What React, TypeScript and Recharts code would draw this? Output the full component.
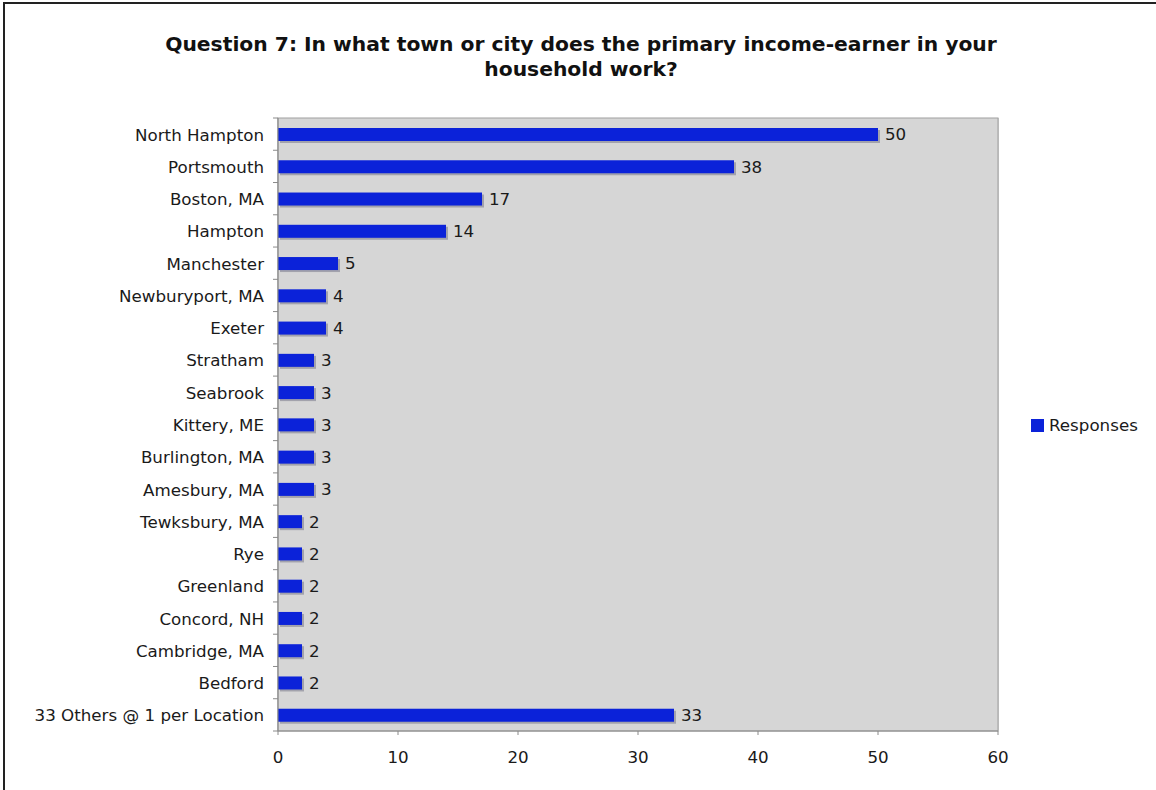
import React from "react";
import { BarChart, Bar, XAxis, YAxis, CartesianGrid, LabelList } from "recharts";

const categories = [
  "North Hampton",
  "Portsmouth",
  "Boston, MA",
  "Hampton",
  "Manchester",
  "Newburyport, MA",
  "Exeter",
  "Stratham",
  "Seabrook",
  "Kittery, ME",
  "Burlington, MA",
  "Amesbury, MA",
  "Tewksbury, MA",
  "Rye",
  "Greenland",
  "Concord, NH",
  "Cambridge, MA",
  "Bedford",
  "33 Others @ 1 per Location",
];
const responses = [50, 38, 17, 14, 5, 4, 4, 3, 3, 3, 3, 3, 2, 2, 2, 2, 2, 2, 33];
const xTicks = [0, 10, 20, 30, 40, 50, 60];
const seriesName = "Responses";
const titleLines = [
  "Question 7: In what town or city does the primary income-earner in your",
  "household work?",
];

const data = categories.map((c, i) => ({ name: c, value: responses[i] }));

const W = 1156;
const H = 790;
const PLOT_TOP = 118;
const PLOT_LEFT = 278;
const PLOT_RIGHT = 998;
const PLOT_BOTTOM = 731;
const BAND = (PLOT_BOTTOM - PLOT_TOP) / categories.length;
const FONT = "'DejaVu Sans', Verdana, sans-serif";
const FS = 16.7;
const BLUE = "#0b22d9";

const BarShape = (props: any) => {
  const { x, y, width, height } = props;
  if (width <= 0) return null;
  return (
    <g>
      <rect x={x + 2} y={y + 2} width={width} height={height} fill="#a2a2ac" />
      <rect x={x} y={y} width={width} height={height} fill={BLUE} />
    </g>
  );
};

const CatTick = (props: any) => {
  const { x, y, payload, index } = props;
  return (
    <g>
      <line x1={PLOT_LEFT - 5} x2={PLOT_LEFT} y1={y - BAND / 2} y2={y - BAND / 2} stroke="#8a8a8a" />
      {index === categories.length - 1 && (
        <line x1={PLOT_LEFT - 5} x2={PLOT_LEFT} y1={y + BAND / 2} y2={y + BAND / 2} stroke="#8a8a8a" />
      )}
      <text x={x - 6} y={y} dy={6.5} textAnchor="end" fontSize={FS} fontFamily={FONT} fill="#1a1a1a">
        {payload.value}
      </text>
    </g>
  );
};

export default function App() {
  return (
    <div style={{ position: "absolute", left: 0, top: 0, width: W, height: H, background: "#fff", overflow: "hidden" }}>
      <div style={{ position: "absolute", left: 3, top: 2, width: W, height: H, borderTop: "2px solid #222", borderLeft: "2px solid #222" }} />
      <div
        style={{
          position: "absolute",
          left: 0,
          width: 1162,
          top: 32,
          textAlign: "center",
          fontFamily: FONT,
          fontWeight: "bold",
          fontSize: 20.3,
          lineHeight: "25px",
          color: "#111",
        }}
      >
        {titleLines.map((t, i) => (
          <div key={i}>{t}</div>
        ))}
      </div>
      <BarChart
        width={W}
        height={H}
        data={data}
        layout="vertical"
        margin={{ top: PLOT_TOP, left: 8, right: W - PLOT_RIGHT, bottom: H - PLOT_BOTTOM - 30 }}
        barCategoryGap={0}
        style={{ position: "absolute", left: 0, top: 0 }}
      >
        <rect x={PLOT_LEFT} y={PLOT_TOP} width={PLOT_RIGHT - PLOT_LEFT} height={PLOT_BOTTOM - PLOT_TOP} fill="#d6d6d6" />
        <CartesianGrid horizontal={false} stroke="#a6a6a6" strokeWidth={1} fill="#d6d6d6" />
        <XAxis
          type="number"
          domain={[0, 60]}
          ticks={xTicks}
          height={30}
          axisLine={{ stroke: "#8a8a8a" }}
          tickLine={{ stroke: "#8a8a8a" }}
          tickSize={4}
          tick={{ fontSize: FS, fontFamily: FONT, fill: "#1a1a1a", dy: 14 }}
        />
        <YAxis
          type="category"
          dataKey="name"
          width={270}
          axisLine={{ stroke: "#8a8a8a" }}
          tickLine={false}
          tick={<CatTick />}
          interval={0}
        />
        <Bar dataKey="value" name={seriesName} barSize={13} shape={<BarShape />} isAnimationActive={false}>
          <LabelList dataKey="value" position="right" offset={7} style={{ fontSize: FS, fontFamily: FONT, fill: "#1a1a1a" }} />
        </Bar>
        <rect x={PLOT_LEFT} y={PLOT_TOP} width={PLOT_RIGHT - PLOT_LEFT} height={PLOT_BOTTOM - PLOT_TOP} fill="none" stroke="#a0a0a0" />
      </BarChart>
      <div style={{ position: "absolute", left: 1031, top: 415, display: "flex", alignItems: "center", fontFamily: FONT, fontSize: FS, color: "#1a1a1a" }}>
        <span style={{ display: "inline-block", width: 13, height: 13, background: BLUE, marginRight: 5 }} />
        <span>{seriesName}</span>
      </div>
    </div>
  );
}
